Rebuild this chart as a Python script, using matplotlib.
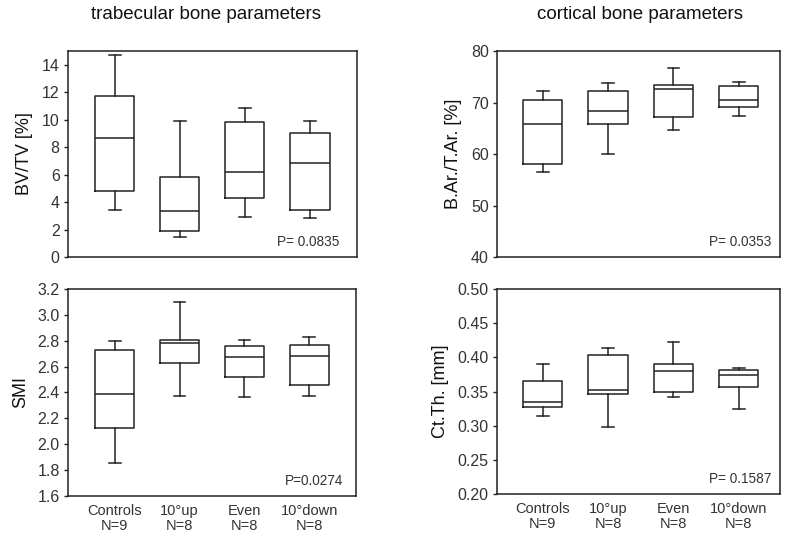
import matplotlib
matplotlib.use("Agg")
import matplotlib.pyplot as plt

plt.rcParams["font.family"] = ["Liberation Sans", "DejaVu Sans"]

# groups shown on every panel
groups = ["Controls\nN=9", "10°up\nN=8", "Even\nN=8", "10°down\nN=8"]

# BV/TV [%] (trabecular)
bvtv_low = [3.46, 1.46, 2.92, 2.85]
bvtv_q1 = [4.82, 1.87, 4.31, 3.46]
bvtv_med = [8.64, 3.36, 6.16, 6.82]
bvtv_q3 = [11.76, 5.84, 9.86, 9.01]
bvtv_high = [14.73, 9.93, 10.83, 9.93]

# B.Ar./T.Ar. [%] (cortical)
bar_low = [56.5, 60.0, 64.7, 67.4]
bar_q1 = [58.1, 65.9, 67.1, 69.2]
bar_med = [65.9, 68.4, 72.7, 70.4]
bar_q3 = [70.5, 72.3, 73.5, 73.2]
bar_high = [72.2, 73.7, 76.8, 73.9]

# SMI (trabecular)
smi_low = [1.856, 2.373, 2.365, 2.373]
smi_q1 = [2.122, 2.626, 2.520, 2.456]
smi_med = [2.388, 2.781, 2.675, 2.683]
smi_q3 = [2.730, 2.807, 2.761, 2.768]
smi_high = [2.794, 3.097, 2.802, 2.825]

# Ct.Th. [mm] (cortical)
ctth_low = [0.314, 0.298, 0.342, 0.324]
ctth_q1 = [0.327, 0.346, 0.350, 0.356]
ctth_med = [0.334, 0.352, 0.380, 0.374]
ctth_q3 = [0.365, 0.404, 0.390, 0.381]
ctth_high = [0.390, 0.414, 0.422, 0.384]

p_values = ["P= 0.0835", "P= 0.0353", "P=0.0274", "P= 0.1587"]


def make_stats(low, q1, med, q3, high):
    """Build the list of dicts that Axes.bxp wants."""
    return [
        dict(whislo=a, q1=b, med=c, q3=d, whishi=e, fliers=[])
        for a, b, c, d, e in zip(low, q1, med, q3, high)
    ]


panels = [
    # rect, stats, ylabel, ylim, yticks, tickfmt, xlim, p text x
    ([0.0864, 0.5196, 0.367, 0.385],
     make_stats(bvtv_low, bvtv_q1, bvtv_med, bvtv_q3, bvtv_high),
     "BV/TV [%]", (0, 15), range(0, 15, 2), "{:.0f}", (0.28, 4.72), 0.938),
    ([0.6315, 0.5196, 0.3596, 0.385],
     make_stats(bar_low, bar_q1, bar_med, bar_q3, bar_high),
     "B.Ar./T.Ar. [%]", (40, 80), range(40, 81, 10), "{:.0f}", (0.30, 4.63), 0.968),
    ([0.0864, 0.0729, 0.366, 0.387],
     make_stats(smi_low, smi_q1, smi_med, smi_q3, smi_high),
     "SMI", (1.6, 3.2), [1.6 + 0.2 * i for i in range(9)], "{:.1f}", (0.28, 4.72), 0.955),
    ([0.6315, 0.0766, 0.3596, 0.383],
     make_stats(ctth_low, ctth_q1, ctth_med, ctth_q3, ctth_high),
     "Ct.Th. [mm]", (0.2, 0.5), [0.2 + 0.05 * i for i in range(7)], "{:.2f}", (0.30, 4.63), 0.968),
]

line_col = "#222222"
text_col = "#333333"

fig = plt.figure(figsize=(7.87, 5.35), dpi=100)

for i, (rect, stats, ylabel, ylim, yticks, fmt, xlim, px) in enumerate(panels):
    ax = fig.add_axes(rect)
    lp = dict(color=line_col, linewidth=1.1)
    ax.bxp(
        stats,
        positions=[1, 2, 3, 4],
        widths=0.6,
        showfliers=False,
        boxprops=lp,
        medianprops=lp,
        whiskerprops=lp,
        capprops=lp,
        capwidths=0.18,
    )
    ax.set_xlim(*xlim)
    ax.set_ylim(*ylim)
    ax.set_yticks(list(yticks))
    ax.set_yticklabels([fmt.format(v) for v in yticks], fontsize=11.5, color=text_col)
    ax.set_ylabel(ylabel, fontsize=13, color="#111111", labelpad=6)
    ax.tick_params(axis="y", direction="out", length=3, width=1, color=line_col, pad=3)

    if i >= 2:
        ax.set_xticks([1, 2, 3, 4])
        ax.set_xticklabels(groups, fontsize=10.5, color=text_col, linespacing=1.1)
        ax.tick_params(axis="x", length=0, pad=6)
    else:
        ax.set_xticks([])

    for sp in ax.spines.values():
        sp.set_color(line_col)
        sp.set_linewidth(1.1)

    ax.text(px, 0.04, p_values[i], transform=ax.transAxes, ha="right", va="bottom",
            fontsize=9.8, color=text_col)

fig.text(0.262, 0.972, "trabecular bone parameters", ha="center", va="center",
         fontsize=13.5, color="#111111")
fig.text(0.813, 0.972, "cortical bone parameters", ha="center", va="center",
         fontsize=13.5, color="#111111")

fig.savefig("out.png", dpi=100)
